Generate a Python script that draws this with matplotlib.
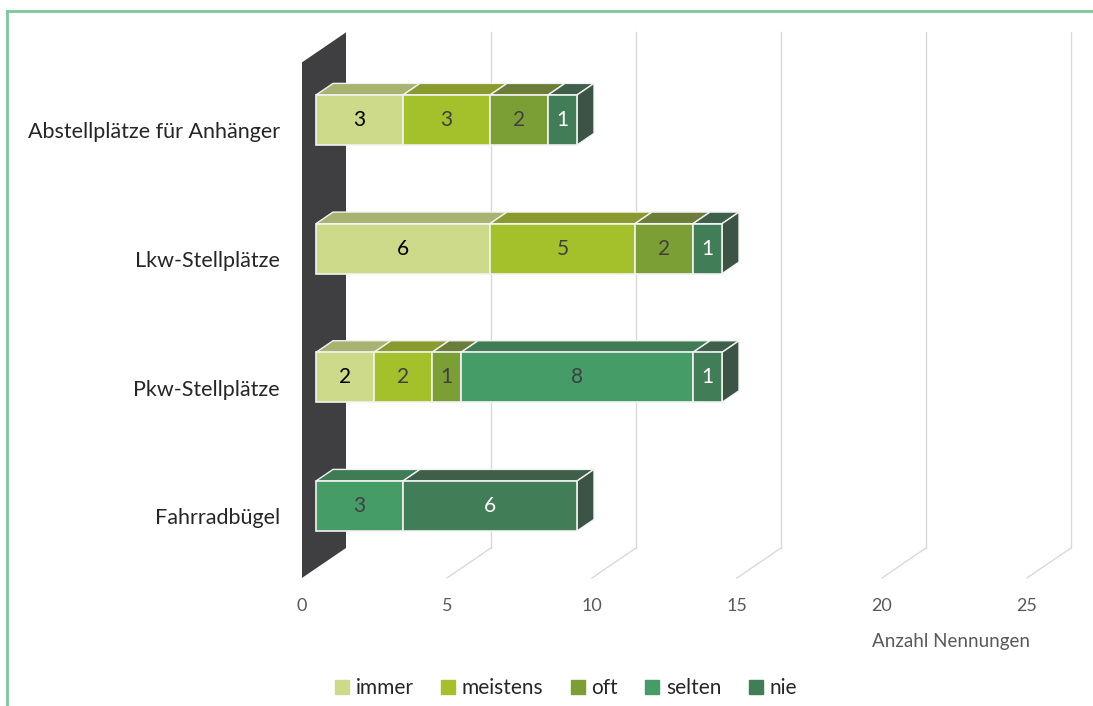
import numpy as np
import matplotlib.pyplot as plt
from matplotlib.patches import Polygon
from matplotlib.lines import Line2D

# data
categories = ['Fahrradbügel', 'Pkw-Stellplätze', 'Lkw-Stellplätze', 'Abstellplätze für Anhänger']
series = ['immer', 'meistens', 'oft', 'selten', 'nie']
immer = [0, 2, 6, 3]
meistens = [0, 2, 5, 3]
oft = [0, 1, 2, 2]
selten = [3, 8, 0, 0]
nie = [6, 1, 1, 1]
ticks = [0, 5, 10, 15, 20, 25]
xlabel = 'Anzahl Nennungen'

front_cols = ['#CCDA89', '#A4C02B', '#7C9F35', '#459C66', '#417D57']
top_cols = ['#A8B271', '#8A9A2E', '#6C7D3A', '#3F7C55', '#3E5F4A']
side_cols = ['#8E9660', '#74822A', '#5B6A33', '#365F47', '#3B5445']
label_cols = ['#000000', '#404040', '#404040', '#404040', '#FFFFFF']

plt.rcParams['font.family'] = ['Lato', 'DejaVu Sans']

W, H = 1093, 706
fig = plt.figure(figsize=(W / 100, H / 100), dpi=100)
ax = fig.add_axes([0, 0, 1, 1])
ax.axis('off')

# layout: value -> pixel scale, category spacing
ppu = 29.0
x0 = 316.0
sp = 128.67
c0 = 506.0
ax.set_xlim(-x0 / ppu, (W - x0) / ppu)
ax.set_ylim((c0 - H) / sp, c0 / sp)

DX = 44 / ppu       # depth of the whole plot box in value units
DY = 30 / sp        # ... and in category units
f0, f1 = -14 / 44, 30 / 44   # front / back plane relative to bar front
bd = 17 / 44                 # bar depth
bh = 50 / sp                 # bar height
c_floor, c_top = -0.485, 3.522


def proj(v, c, d):
    return (v + d * DX, c + d * DY)


# side wall
wall = [proj(0, c_floor, f0), proj(0, c_top, f0), proj(0, c_top, f1), proj(0, c_floor, f1)]
ax.add_patch(Polygon(wall, closed=True, fc='#3F3F41', ec='none', zorder=1))

# gridlines on back wall and floor
for v in ticks[1:]:
    a = proj(v, c_floor, f1)
    b = proj(v, c_top, f1)
    f = proj(v, c_floor, f0)
    ax.plot([a[0], b[0]], [a[1], b[1]], color='#D9D9D9', lw=1, zorder=0.5)
    ax.plot([a[0], f[0]], [a[1], f[1]], color='#D9D9D9', lw=1, zorder=0.5)

# tick labels
for v in ticks:
    ax.annotate(str(v), xy=proj(v, c_floor, f0), xytext=(0, -20), textcoords='offset points',
                ha='center', va='center', fontsize=13, color='#595959')

data = np.array([immer, meistens, oft, selten, nie], dtype=float)

for i, cat in enumerate(categories):
    left = 0.0
    lo, hi = i - bh / 2, i + bh / 2
    last = max(k for k in range(len(series)) if data[k, i] > 0)
    for k in range(len(series)):
        w = data[k, i]
        if w <= 0:
            continue
        r = left + w
        top = [proj(left, hi, 0), proj(r, hi, 0), proj(r, hi, bd), proj(left, hi, bd)]
        ax.add_patch(Polygon(top, closed=True, fc=top_cols[k], ec='#F2F2F2', lw=1, zorder=2))
        ax.add_patch(Polygon([proj(left, lo, 0), proj(r, lo, 0), proj(r, hi, 0), proj(left, hi, 0)],
                             closed=True, fc=front_cols[k], ec='#F2F2F2', lw=1.2, zorder=3))
        if k == last:
            side = [proj(r, lo, 0), proj(r, hi, 0), proj(r, hi, bd), proj(r, lo, bd)]
            ax.add_patch(Polygon(side, closed=True, fc=side_cols[k], ec='#F2F2F2', lw=1, zorder=2))
        ax.text(left + w / 2, i, '%d' % w, ha='center', va='center', fontsize=15,
                color=label_cols[k], zorder=4)
        left = r
    ax.annotate(cat, xy=proj(0, i, f0), xytext=(-16, -2), textcoords='offset points',
                ha='right', va='center', fontsize=15.5, color='#262626')

fig.text(951 / W, 1 - 642 / H, xlabel, ha='center', va='center', fontsize=13.5, color='#595959')

handles = [Line2D([], [], marker='s', ls='none', ms=10, mfc=c, mec=c) for c in front_cols]
fig.legend(handles, series, loc='center', bbox_to_anchor=(566 / W, 1 - 688 / H), ncol=5,
           frameon=False, fontsize=15, handlelength=0.7, handletextpad=0.3, columnspacing=1.3,
           labelcolor='#262626')

# chart border
fig.add_artist(Line2D([7 / W, 7 / W], [0, 1 - 11 / H], color='#7DC99A', lw=2))
fig.add_artist(Line2D([7 / W, 1], [1 - 11 / H, 1 - 11 / H], color='#7DC99A', lw=2))

fig.savefig('out.png', dpi=100)
